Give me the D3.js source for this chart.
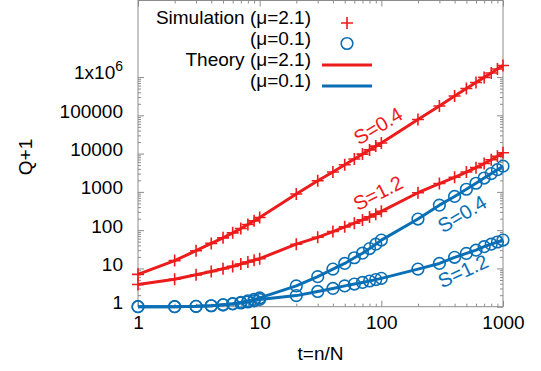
<!DOCTYPE html>
<html>
<head>
<meta charset="utf-8">
<script src="https://cdn.jsdelivr.net/npm/d3@7"></script>
<style>
  html, body { margin: 0; padding: 0; background: #fff; }
  svg text { font-family: "Liberation Sans", Arial, sans-serif; }
</style>
</head>
<body>
<svg id="chart" width="541" height="371"></svg>
<script>
// ---- data ----
const tValues = [1,2,3,4,5,6,7,8,9,10,20,30,40,50,60,70,80,90,100,200,300,400,500,600,700,800,900,1000];
const redS04 = [7,16,29,45,63,85,110,140,175,215,880,1950,3300,5100,7200,9700,12500,15700,19000,78000,175000,320000,500000,720000,980000,1280000,1620000,2000000];
const redS12 = [3.8,5.2,6.8,8.3,9.8,11.3,13,14.7,16.3,18,43,65,92,122,152,185,222,262,310,950,1650,2400,3300,4300,5500,6900,8500,10500];
const blueS04 = [1.0,1.0,1.02,1.06,1.12,1.2,1.3,1.42,1.55,1.7,3.5,6.1,9.6,13.5,19,25,33,43,55,195,450,760,1170,1680,2300,3000,3800,4700];
const blueS12 = [1.0,1.0,1.02,1.06,1.12,1.18,1.25,1.33,1.42,1.55,1.95,2.5,3.0,3.5,3.9,4.3,4.7,5.1,5.5,9.6,13.5,19.5,24.7,30,37,43,49,55];
const xTicks = [1,10,100,1000];
const xTickLabels = ["1","10","100","1000"];
const yTicks = [1,10,100,1000,10000,100000,1000000];
const yTickLabels = ["1","10","100","1000","10000","100000","1x10^6"];
const legendLabels = ["Simulation (\u03bc=2.1)","(\u03bc=0.1)","Theory (\u03bc=2.1)","(\u03bc=0.1)"];
const curveLabels = [
  {text:"S=0.4", color:"red", x:378, y:126, rot:-31},
  {text:"S=1.2", color:"red", x:378, y:193, rot:-27},
  {text:"S=0.4", color:"blue", x:462, y:214, rot:-31},
  {text:"S=1.2", color:"blue", x:463, y:271, rot:-25}
];

const RED = "#ec1c1c", BLUE = "#0a6fb5", FRAME = "#8c8c8c";
const colors = {red: RED, blue: BLUE};

const svg = d3.select("#chart");
const L = 138, R = 503, T = 0.5, B = 306.7;
const x = d3.scaleLog().domain([1,1000]).range([L,R]);
const y = d3.scaleLog().domain([1,1e8]).range([B,T]);

// minor tick values
const xMinor = [];
for (let d = 1; d < 1000; d *= 10) for (let k = 2; k <= 9; k++) xMinor.push(d*k);
const yMinor = [];
for (let d = 1; d < 1e6; d *= 10) for (let k = 2; k <= 9; k++) yMinor.push(d*k);

function styleAxis(g) {
  g.select(".domain").remove();
  g.selectAll(".tick line").attr("stroke", FRAME).attr("stroke-width", 1);
}
// bottom
svg.append("g").attr("transform",`translate(0,${B})`)
  .call(d3.axisBottom(x).tickValues(xMinor).tickSize(-3).tickFormat("")).call(styleAxis);
svg.append("g").attr("transform",`translate(0,${B})`)
  .call(d3.axisBottom(x).tickValues(xTicks).tickSize(-6).tickPadding(9)
    .tickFormat((d,i)=>xTickLabels[i])).call(styleAxis)
  .selectAll("text").attr("font-size",19).attr("fill","#000");
// top
svg.append("g").attr("transform",`translate(0,${T})`)
  .call(d3.axisTop(x).tickValues(xMinor).tickSize(-3).tickFormat("")).call(styleAxis);
svg.append("g").attr("transform",`translate(0,${T})`)
  .call(d3.axisTop(x).tickValues(xTicks).tickSize(-6).tickFormat("")).call(styleAxis);
// left
svg.append("g").attr("transform",`translate(${L},0)`)
  .call(d3.axisLeft(y).tickValues(yMinor).tickSize(-3).tickFormat("")).call(styleAxis);
const yAx = svg.append("g").attr("transform",`translate(${L},0)`)
  .call(d3.axisLeft(y).tickValues(yTicks).tickSize(-6).tickPadding(15)
    .tickFormat((d,i)=>yTickLabels[i])).call(styleAxis);
yAx.selectAll("text").attr("font-size",19).attr("fill","#000").attr("dy","0.1em")
  .each(function(d,i){
    const lab = yTickLabels[i];
    if (lab.indexOf("^") >= 0) {
      const parts = lab.split("^");
      const t = d3.select(this).text("");
      t.append("tspan").text(parts[0]);
      t.append("tspan").attr("dy",-8).attr("font-size",14).text(parts[1]);
    }
  });
// right
svg.append("g").attr("transform",`translate(${R},0)`)
  .call(d3.axisRight(y).tickValues(yMinor).tickSize(-3).tickFormat("")).call(styleAxis);
svg.append("g").attr("transform",`translate(${R},0)`)
  .call(d3.axisRight(y).tickValues(yTicks).tickSize(-6).tickFormat("")).call(styleAxis);

// frame
svg.append("rect").attr("x",L).attr("y",T).attr("width",R-L).attr("height",B-T)
  .attr("fill","none").attr("stroke",FRAME).attr("stroke-width",1);

// axis titles
svg.append("text").attr("x",(L+R)/2).attr("y",360).attr("text-anchor","middle")
  .attr("font-size",19).text("t=n/N");
svg.append("text").attr("transform","translate(32,157) rotate(-90)").attr("text-anchor","middle")
  .attr("font-size",19).text("Q+1");

// series
const series = [
  {vals: redS04, color: RED, marker: "plus"},
  {vals: redS12, color: RED, marker: "plus"},
  {vals: blueS04, color: BLUE, marker: "circle"},
  {vals: blueS12, color: BLUE, marker: "circle"}
];
const line = d3.line().x(d=>x(d[0])).y(d=>y(d[1]));
series.forEach(s=>{
  const pts = tValues.map((t,i)=>[t, s.vals[i]]);
  svg.append("path").datum(pts).attr("d",line).attr("fill","none")
    .attr("stroke",s.color).attr("stroke-width",3).attr("stroke-linejoin","round");
});
series.forEach(s=>{
  const pts = tValues.map((t,i)=>[t, s.vals[i]]);
  const g = svg.append("g");
  if (s.marker === "plus") {
    g.selectAll("path").data(pts).enter().append("path")
      .attr("d", d=>{const cx=x(d[0]), cy=y(d[1]); return `M${cx-6},${cy}H${cx+6}M${cx},${cy-6}V${cy+6}`;})
      .attr("stroke",s.color).attr("stroke-width",1.6).attr("fill","none");
  } else {
    g.selectAll("circle").data(pts).enter().append("circle")
      .attr("cx",d=>x(d[0])).attr("cy",d=>y(d[1])).attr("r",5.8)
      .attr("fill","none").attr("stroke",s.color).attr("stroke-width",1.6);
  }
});

// curve labels
curveLabels.forEach(c=>{
  svg.append("text").attr("transform",`translate(${c.x},${c.y}) rotate(${c.rot})`)
    .attr("text-anchor","middle").attr("dominant-baseline","central")
    .attr("font-size",20).attr("fill",colors[c.color]).text(c.text);
});

// legend
const legTextY = [24, 45, 66, 87];
const legSymY = [23, 43.5, 65, 86];
legendLabels.forEach((lab,i)=>{
  svg.append("text").attr("x",311).attr("y",legTextY[i]).attr("text-anchor","end")
    .attr("font-size",19).text(lab);
});
const lx = 347;
svg.append("path").attr("d",`M${lx-6},${legSymY[0]}H${lx+6}M${lx},${legSymY[0]-6}V${legSymY[0]+6}`)
  .attr("stroke",RED).attr("stroke-width",1.6);
svg.append("circle").attr("cx",lx).attr("cy",legSymY[1]).attr("r",5.8)
  .attr("fill","none").attr("stroke",BLUE).attr("stroke-width",1.6);
svg.append("line").attr("x1",322).attr("x2",372).attr("y1",legSymY[2]).attr("y2",legSymY[2])
  .attr("stroke",RED).attr("stroke-width",3);
svg.append("line").attr("x1",322).attr("x2",372).attr("y1",legSymY[3]).attr("y2",legSymY[3])
  .attr("stroke",BLUE).attr("stroke-width",3);
</script>
</body>
</html>
